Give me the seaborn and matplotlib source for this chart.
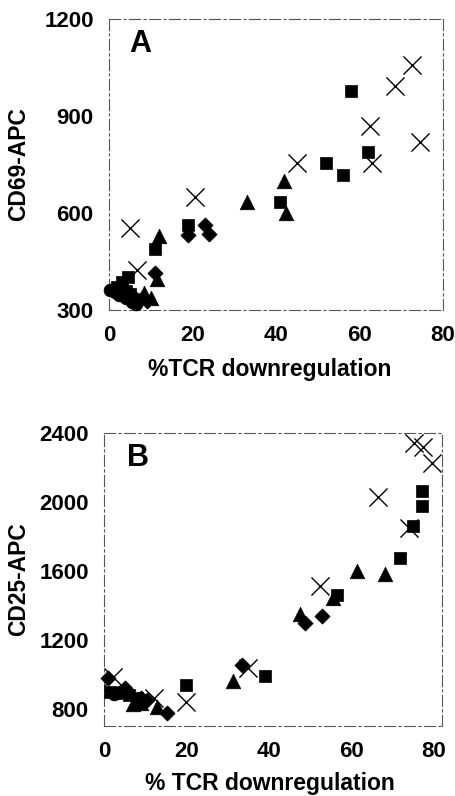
import matplotlib
matplotlib.use('Agg')
import matplotlib.pyplot as plt
import seaborn as sns

# Panel A: CD69-APC vs %TCR downregulation
a_circle_x = [0.3, 1.5, 2.5, 4, 5.5, 6.5]
a_circle_y = [362, 355, 345, 338, 325, 318]
a_square_x = [2, 3, 4.5, 4, 5, 11, 19, 41, 52, 56, 58, 62]
a_square_y = [371, 387, 402, 360, 350, 490, 562, 635, 755, 718, 977, 790]
a_diamond_x = [6, 7.5, 9, 11, 19, 23, 24]
a_diamond_y = [340, 330, 328, 415, 533, 562, 535]
a_triangle_x = [8.5, 10, 11.5, 12, 33, 42, 42.3]
a_triangle_y = [352, 338, 395, 528, 635, 698, 600]
a_cross_x = [5, 6.6, 20.5, 45, 62.5, 63, 68.5, 72.5, 74.5]
a_cross_y = [555, 424, 650, 755, 870, 755, 993, 1058, 820]

# Panel B: CD25-APC vs % TCR downregulation
b_circle_x = [2.5, 4]
b_circle_y = [885, 895]
b_square_x = [1.5, 3, 6, 8, 20, 39, 56.5, 71.8, 75, 77.2, 77.2]
b_square_y = [900, 890, 880, 865, 940, 990, 1460, 1675, 1860, 1975, 2065]
b_diamond_x = [1, 5, 9, 10.5, 15.3, 33.5, 48.8, 52.9]
b_diamond_y = [978, 920, 865, 850, 775, 1055, 1295, 1340]
b_triangle_x = [7, 9, 12.9, 31.3, 47.6, 55.6, 61.4, 68.2]
b_triangle_y = [830, 835, 810, 960, 1350, 1440, 1600, 1580]
b_cross_x = [2.2, 12.2, 20, 35, 52.5, 66.5, 74, 75.2, 77.5, 79.5]
b_cross_y = [983, 860, 840, 1035, 1510, 2030, 1850, 2340, 2320, 2225]

a_yticks = [300, 600, 900, 1200]
b_yticks = [800, 1200, 1600, 2000, 2400]
xticks = [0, 20, 40, 60, 80]

sns.set_style('white')
plt.rcParams['font.family'] = ['Liberation Sans', 'DejaVu Sans']
plt.rcParams['font.weight'] = 'bold'
plt.rcParams['text.color'] = 'black'
plt.rcParams['axes.labelcolor'] = 'black'

fig = plt.figure(figsize=(4.55, 7.96), dpi=100)
axA = fig.add_axes([109/455, 1-310/796, 334/455, 291/796])
axB = fig.add_axes([104/455, 1-726/796, 338/455, 293/796])


def draw(ax, groups, crosses):
    for xs, ys, m, s in groups:
        sns.scatterplot(x=xs, y=ys, marker=m, s=s, color='black', edgecolor='black',
                        linewidth=0.5, clip_on=False, ax=ax, zorder=3)
    sns.scatterplot(x=crosses[0], y=crosses[1], marker='x', s=170, color='black',
                    linewidth=1.0, clip_on=False, ax=ax, zorder=4)
    for sp in ax.spines.values():
        sp.set_color('#555555')
        sp.set_linewidth(0.8)
        sp.set_linestyle((0, (10, 3, 2, 3)))
    ax.tick_params(axis='both', direction='inout', length=8, width=0.8, color='#333333',
                   labelsize=16, pad=7, labelcolor='black')


draw(axA,
     [(a_circle_x, a_circle_y, 'o', 85),
      (a_square_x, a_square_y, 's', 75),
      (a_diamond_x, a_diamond_y, 'D', 60),
      (a_triangle_x, a_triangle_y, '^', 110)],
     (a_cross_x, a_cross_y))
axA.set_xlim(0, 80)
axA.set_ylim(300, 1200)
axA.set_xticks(xticks)
axA.set_yticks(a_yticks)
axA.set_xticklabels([str(t) for t in xticks], fontweight='bold')
axA.set_yticklabels([str(t) for t in a_yticks], fontweight='bold')
axA.set_xlabel('%TCR downregulation', fontsize=16.5, fontweight='bold')
axA.set_ylabel('CD69-APC', fontsize=16.5, fontweight='bold')
axA.xaxis.set_label_coords(0.48, -0.165)
axA.yaxis.set_label_coords(-0.237, 0.5)
axA.text(0.093, 0.914, 'A', transform=axA.transAxes, fontsize=22, fontweight='bold',
         ha='center', va='center')

draw(axB,
     [(b_circle_x, b_circle_y, 'o', 85),
      (b_square_x, b_square_y, 's', 75),
      (b_diamond_x, b_diamond_y, 'D', 60),
      (b_triangle_x, b_triangle_y, '^', 110)],
     (b_cross_x, b_cross_y))
axB.set_xlim(0, 82)
axB.set_ylim(700, 2400)
axB.set_xticks(xticks)
axB.set_yticks(b_yticks)
axB.set_xticklabels([str(t) for t in xticks], fontweight='bold')
axB.set_yticklabels([str(t) for t in b_yticks], fontweight='bold')
axB.set_xlabel('% TCR downregulation', fontsize=16.5, fontweight='bold')
axB.set_ylabel('CD25-APC', fontsize=16.5, fontweight='bold')
axB.xaxis.set_label_coords(0.49, -0.157)
axB.yaxis.set_label_coords(-0.219, 0.5)
axB.text(0.1, 0.915, 'B', transform=axB.transAxes, fontsize=22, fontweight='bold',
         ha='center', va='center')

fig.savefig('out.png', dpi=100)
